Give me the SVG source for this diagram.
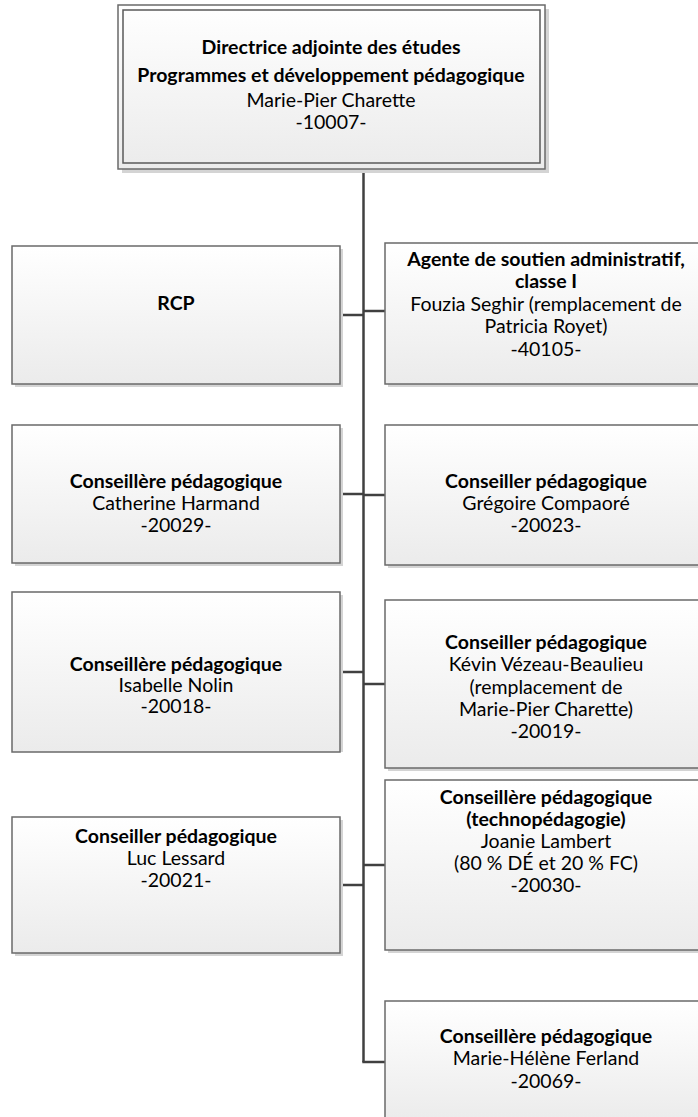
<svg xmlns="http://www.w3.org/2000/svg" width="698" height="1117" viewBox="0 0 698 1117">
<defs>
<linearGradient id="g" x1="0" y1="0" x2="0" y2="1">
<stop offset="0" stop-color="#ffffff"/>
<stop offset="1" stop-color="#ebebeb"/>
</linearGradient>
<style>
.box{fill:url(#g);stroke:#6a6a6a;stroke-width:1.5}
.sh{fill:#d4d4d4}
.in{fill:none;stroke:#5a5a5a;stroke-width:1.5}
.t{font-family:Lato,"Liberation Sans",sans-serif;font-size:19.5px;fill:#000;text-anchor:middle}
.b{font-weight:bold}
.c{stroke:#404040;stroke-width:2.5;fill:none}
</style>
</defs>
<g id="connectors">
<line class="c" x1="363.5" y1="169" x2="363.5" y2="1062"/>
<line class="c" x1="340" y1="315" x2="363.5" y2="315"/>
<line class="c" x1="363.5" y1="311" x2="385" y2="311"/>
<line class="c" x1="340" y1="494" x2="363.5" y2="494"/>
<line class="c" x1="363.5" y1="495" x2="385" y2="495"/>
<line class="c" x1="340" y1="672" x2="363.5" y2="672"/>
<line class="c" x1="363.5" y1="684" x2="385" y2="684"/>
<line class="c" x1="340" y1="885" x2="363.5" y2="885"/>
<line class="c" x1="363.5" y1="865" x2="385" y2="865"/>
<line class="c" x1="362.3" y1="1062" x2="385" y2="1062"/>
</g>
<g id="n-directrice">
<rect class="sh" x="122" y="9" width="427" height="164"/>
<rect class="box" x="118" y="5" width="427" height="164"/>
<rect class="in" x="123" y="10" width="417" height="153"/>
<text class="t b" x="331" y="54">Directrice adjointe des études</text>
<text class="t b" x="331" y="82">Programmes et développement pédagogique</text>
<text class="t" x="331" y="107">Marie-Pier Charette</text>
<text class="t" x="331" y="129">-10007-</text>
</g>
<g id="n-rcp">
<rect class="sh" x="15" y="249" width="328" height="138"/>
<rect class="box" x="12" y="246" width="328" height="138"/>
<text class="t b" x="176" y="310">RCP</text>
</g>
<g id="n-agente">
<rect class="sh" x="388" y="246" width="330" height="141"/>
<rect class="box" x="385" y="243" width="330" height="141"/>
<text class="t b" x="546" y="266">Agente de soutien administratif,</text>
<text class="t b" x="546" y="288">classe I</text>
<text class="t" x="546" y="311">Fouzia Seghir (remplacement de</text>
<text class="t" x="546" y="333">Patricia Royet)</text>
<text class="t" x="546" y="356">-40105-</text>
</g>
<g id="n-catherine">
<rect class="sh" x="15" y="428" width="328" height="138"/>
<rect class="box" x="12" y="425" width="328" height="138"/>
<text class="t b" x="176" y="488">Conseillère pédagogique</text>
<text class="t" x="176" y="510">Catherine Harmand</text>
<text class="t" x="176" y="532">-20029-</text>
</g>
<g id="n-gregoire">
<rect class="sh" x="388" y="428" width="330" height="140"/>
<rect class="box" x="385" y="425" width="330" height="140"/>
<text class="t b" x="546" y="488">Conseiller pédagogique</text>
<text class="t" x="546" y="510">Grégoire Compaoré</text>
<text class="t" x="546" y="532">-20023-</text>
</g>
<g id="n-isabelle">
<rect class="sh" x="15" y="595" width="328" height="157"/>
<rect class="box" x="12" y="592" width="328" height="160"/>
<text class="t b" x="176" y="671">Conseillère pédagogique</text>
<text class="t" x="176" y="692">Isabelle Nolin</text>
<text class="t" x="176" y="713">-20018-</text>
</g>
<g id="n-kevin">
<rect class="sh" x="388" y="603" width="330" height="168"/>
<rect class="box" x="385" y="600" width="330" height="168"/>
<text class="t b" x="546" y="649">Conseiller pédagogique</text>
<text class="t" x="546" y="671">Kévin Vézeau-Beaulieu</text>
<text class="t" x="546" y="694">(remplacement de</text>
<text class="t" x="546" y="716">Marie-Pier Charette)</text>
<text class="t" x="546" y="738">-20019-</text>
</g>
<g id="n-luc">
<rect class="sh" x="15" y="820" width="328" height="136"/>
<rect class="box" x="12" y="817" width="328" height="136"/>
<text class="t b" x="176" y="843">Conseiller pédagogique</text>
<text class="t" x="176" y="865">Luc Lessard</text>
<text class="t" x="176" y="887">-20021-</text>
</g>
<g id="n-joanie">
<rect class="sh" x="388" y="783" width="330" height="170"/>
<rect class="box" x="385" y="780" width="330" height="170"/>
<text class="t b" x="546" y="804">Conseillère pédagogique</text>
<text class="t b" x="546" y="826">(technopédagogie)</text>
<text class="t" x="546" y="848">Joanie Lambert</text>
<text class="t" x="546" y="870">(80 % DÉ et 20 % FC)</text>
<text class="t" x="546" y="892">-20030-</text>
</g>
<g id="n-mariehelene">
<rect class="sh" x="388" y="1004" width="330" height="122"/>
<rect class="box" x="385" y="1001" width="330" height="122"/>
<text class="t b" x="546" y="1043">Conseillère pédagogique</text>
<text class="t" x="546" y="1065">Marie-Hélène Ferland</text>
<text class="t" x="546" y="1088">-20069-</text>
</g>
</svg>
